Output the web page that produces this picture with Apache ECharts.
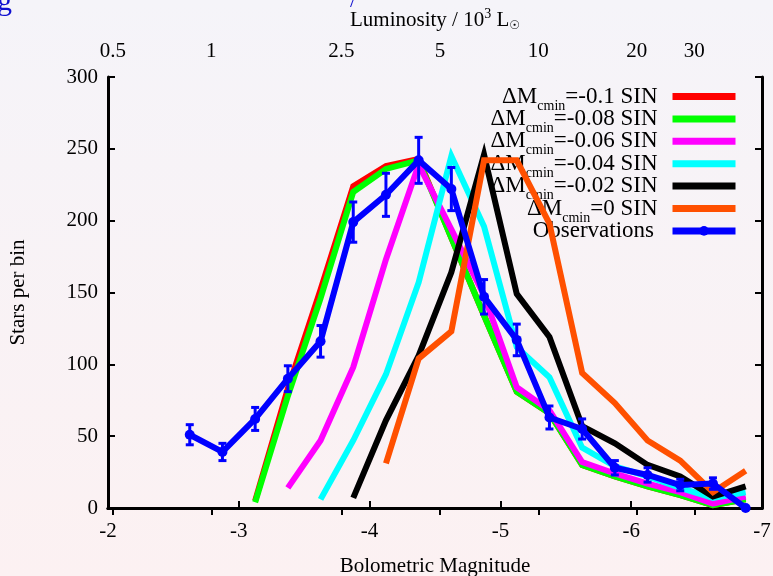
<!DOCTYPE html>
<html>
<head>
<meta charset="utf-8">
<script src="https://cdn.jsdelivr.net/npm/echarts@6/dist/echarts.min.js"></script>
<style>
html,body{margin:0;padding:0;}
body{width:773px;height:576px;background:linear-gradient(#f5f4f9,#fcf1f2);}
#c{width:773px;height:576px;}
</style>
</head>
<body>
<div id="c"></div>
<script>
// ---- data ----
const modelMags = [-3.125,-3.375,-3.625,-3.875,-4.125,-4.375,-4.625,-4.875,-5.125,-5.375,-5.625,-5.875,-6.125,-6.375,-6.625,-6.875];
const red     = [5, 83, 152, 224, 238, 243, 188, 134, 81, 66, 30, 22, 15, 9, 2, 6];
const green   = [4, 78, 146, 220, 236, 242, 188, 134, 81, 66, 30, 22, 15, 9, 2, 6];
const magenta = [null, 14, 47, 98, 173, 239, 194, 148, 84, 68, 32, 24, 17, 11, 3, 8];
const cyan    = [null, null, 6, 47, 93, 157, 245, 196, 112, 91, 42, 29, 22, 14, 7, 11];
const black   = [null, null, null, 7, 61, 106, 164, 246, 149, 119, 57, 45, 30, 22, 8, 15];
const orange  = [null, null, null, null, 31, 104, 123, 242, 242, 198, 94, 73, 47, 33, 11, 26];

const obsMags = [-2.625,-2.875,-3.125,-3.375,-3.625,-3.875,-4.125,-4.375,-4.625,-4.875,-5.125,-5.375,-5.625,-5.875,-6.125,-6.375,-6.625,-6.875];
const obs     = [51, 39, 62, 90, 116, 199, 218, 242, 222, 147, 117, 63, 55, 28, 23, 16, 17, 0];
const obsErr  = [7, 6, 8, 9, 11, 14, 15, 16, 15, 12, 11, 8, 7, 5, 5, 4, 4, 0];

const seriesNames = ['ΔM_cmin=-0.1 SIN','ΔM_cmin=-0.08 SIN','ΔM_cmin=-0.06 SIN','ΔM_cmin=-0.04 SIN','ΔM_cmin=-0.02 SIN','ΔM_cmin=0 SIN','Observations'];
const seriesColors = ['#ff0000','#00ff00','#ff00ff','#00ffff','#000000','#ff5000','#0000ff'];

const lumTicks  = [0.5, 1, 2.5, 5, 10, 20, 30];   // in 10^3 Lsun
const lumLabels = ['0.5','1','2.5','5','10','20','30'];
const MSUN = 4.71;
// ---- end data ----

const topMags = lumTicks.map(L => MSUN - 2.5*Math.log10(L*1000));
const FONT = 'Liberation Serif';

function pairs(xs, ys){ return xs.map((x,i)=>[x, ys[i]]); }

const modelSets = [red, green, magenta, cyan, black, orange];
const series = modelSets.map((arr, i) => ({
  name: seriesNames[i], type: 'line', data: pairs(modelMags, arr),
  symbol: 'none', showSymbol: false, connectNulls: false,
  lineStyle: {color: seriesColors[i], width: 6, join: 'miter'},
  itemStyle: {color: seriesColors[i]},
  z: 2 + i, animation: false
}));
series.push({
  name: seriesNames[6], type: 'line', data: pairs(obsMags, obs),
  symbol: 'circle', symbolSize: 10, showSymbol: true,
  lineStyle: {color: '#0000ff', width: 6},
  itemStyle: {color: '#0000ff'},
  z: 20, animation: false
});
series.push({
  name: 'err', type: 'custom', z: 21, animation: false,
  encode: {x: 0, y: 1},
  data: obsMags.map((m,i)=>[m, obs[i], obsErr[i]]),
  renderItem: function(params, api){
    const x = api.value(0), y = api.value(1), e = api.value(2);
    if (!e) return null;
    const lo = api.coord([x, y - e]), hi = api.coord([x, y + e]);
    const hw = 4, st = {stroke: '#0000ff', lineWidth: 3};
    return {type: 'group', children: [
      {type: 'line', shape: {x1: lo[0], y1: lo[1], x2: hi[0], y2: hi[1]}, style: st},
      {type: 'line', shape: {x1: lo[0]-hw, y1: lo[1], x2: lo[0]+hw, y2: lo[1]}, style: st},
      {type: 'line', shape: {x1: hi[0]-hw, y1: hi[1], x2: hi[0]+hw, y2: hi[1]}, style: st}
    ]};
  }
});

const axisLine = {show: true, lineStyle: {color: '#000', width: 3}};
const tick = {show: true, inside: true, length: 7, lineStyle: {color: '#000', width: 2}};
const lbl = {color: '#000', fontFamily: FONT, fontSize: 21};

const legendData = seriesNames.map((n, i) => i < 6
  ? {name: n, icon: 'path://M0,0H63V7H0Z'}
  : {name: n, lineStyle: {width: 7}});

const chart = echarts.init(document.getElementById('c'), null, {renderer: 'canvas'});
chart.setOption({
  backgroundColor: 'transparent',
  animation: false,
  graphic: [
    {type: 'text', left: -3, top: -13, style: {text: 'g', fill: '#1010d0', font: '30px "Liberation Serif"'}},
    {type: 'text', left: 350, top: -10, style: {text: '/', fill: '#1010d0', font: '22px "Liberation Serif"'}}
  ],
  grid: {left: 108, right: 11, top: 77, bottom: 68, containLabel: false, outerBoundsMode: 'none'},
  legend: {
    data: legendData, orient: 'vertical', align: 'right', padding: 0,
    right: 34, top: 80, itemWidth: 63, itemHeight: 12, itemGap: -10.6,
    symbolKeepAspect: true,
    lineStyle: {width: 7},
    textStyle: {color: '#000', fontFamily: FONT, fontSize: 23, lineHeight: 22,
      rich: {sub: {fontFamily: FONT, fontSize: 14, padding: [19,0,0,0], lineHeight: 22},
             g: {width: 10}}},
    formatter: n => n.indexOf('_cmin') >= 0 ? n.replace('_cmin', '{sub|cmin}') + '{g|}' : n + '{sub| }{g|}'
  },
  xAxis: [{
    type: 'value', min: -7, max: -2, interval: 1, inverse: true, position: 'bottom',
    axisLine, axisTick: tick, splitLine: {show: false},
    axisLabel: Object.assign({margin: 13}, lbl),
    name: 'Bolometric Magnitude', nameLocation: 'middle', nameGap: 48,
    nameTextStyle: {color: '#000', fontFamily: FONT, fontSize: 21}
  }, {
    type: 'value', min: -7, max: -2, inverse: true, position: 'top',
    axisLine, splitLine: {show: false},
    axisTick: Object.assign({customValues: topMags}, tick),
    axisLabel: Object.assign({margin: 15, customValues: topMags,
      formatter: v => { let best = 0; topMags.forEach((m,i)=>{ if (Math.abs(m-v) < Math.abs(topMags[best]-v)) best = i; }); return lumLabels[best]; }}, lbl),
    name: 'Luminosity / 10{sup|3} L{sub|☉}', nameLocation: 'middle', nameGap: 44,
    nameTextStyle: {color: '#000', fontFamily: FONT, fontSize: 21,
      rich: {sup: {fontFamily: FONT, fontSize: 14, padding: [0,0,12,0]},
             sub: {fontFamily: 'DejaVu Sans', fontSize: 12, padding: [12,0,0,0]}}}
  }],
  yAxis: [{
    type: 'value', min: 0, max: 300, interval: 50, position: 'left',
    axisLine, axisTick: tick, splitLine: {show: false},
    axisLabel: Object.assign({margin: 10}, lbl),
    name: 'Stars per bin', nameLocation: 'middle', nameGap: 79, nameRotate: 90,
    nameTextStyle: {color: '#000', fontFamily: FONT, fontSize: 21}
  }, {
    type: 'value', min: 0, max: 300, interval: 50, position: 'right',
    axisLine, axisTick: tick, splitLine: {show: false},
    axisLabel: {show: false}
  }],
  series: series
});
</script>
</body>
</html>
